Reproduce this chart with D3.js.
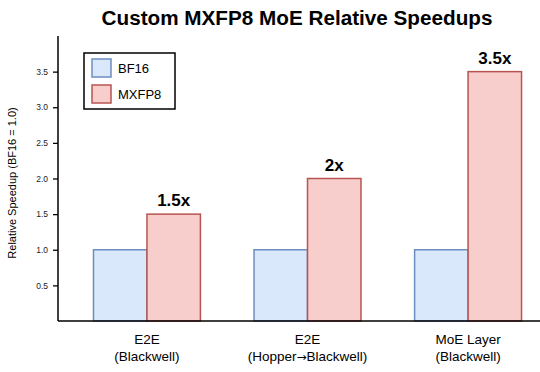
<!DOCTYPE html>
<html>
<head>
<meta charset="utf-8">
<script src="https://cdn.jsdelivr.net/npm/d3@7"></script>
<style>
  body { margin: 0; background: #fff; }
  svg { display: block; font-family: "Liberation Sans", Arial, sans-serif; }
</style>
</head>
<body>
<svg id="chart" width="540" height="372"></svg>
<script>
// chart data
const categories = ['E2E\n(Blackwell)', 'E2E\n(Hopper\u2192Blackwell)', 'MoE Layer\n(Blackwell)'];
const bf16Values = [1.0, 1.0, 1.0];
const mxfp8Values = [1.5, 2.0, 3.5];
const speedupLabels = ['1.5x', '2x', '3.5x'];
const yTicks = [0.5, 1.0, 1.5, 2.0, 2.5, 3.0, 3.5];

const seriesNames = ['BF16', 'MXFP8'];
const fills = ['#dae8fc', '#f8cecc'];
const strokes = ['#6c8ebf', '#b85450'];

const svg = d3.select('#chart');
const plotLeft = 58, plotRight = 540, plotTop = 36, plotBottom = 321;

// group index -> pixel; bars are 1/3 of group spacing wide
const x = d3.scaleLinear().domain([-0.554, 2.448]).range([plotLeft, plotRight]);
const y = d3.scaleLinear().domain([0, 4.0]).range([plotBottom, plotTop]);
const barW = 0.333;

const rows = categories.map((c, i) => ({ i: i, vals: [bf16Values[i], mxfp8Values[i]] }));

const groups = svg.append('g').selectAll('g')
    .data(rows)
    .enter()
    .append('g');

groups.selectAll('rect')
    .data(d => d.vals.map((v, s) => ({ i: d.i, s: s, v: v })))
    .enter()
    .append('rect')
    .attr('x', d => x(d.i + (d.s - 1) * barW))
    .attr('y', d => y(d.v))
    .attr('width', d => x(barW) - x(0))
    .attr('height', d => y(0) - y(d.v))
    .attr('fill', d => fills[d.s])
    .attr('stroke', d => strokes[d.s])
    .attr('stroke-width', 1.5);

// speedup labels over the MXFP8 bars
svg.append('g').selectAll('text')
    .data(rows)
    .enter()
    .append('text')
    .attr('x', d => x(d.i + barW / 2))
    .attr('y', d => y(mxfp8Values[d.i]) - 8)
    .attr('text-anchor', 'middle')
    .style('font-size', '17px')
    .style('font-weight', 'bold')
    .text(d => speedupLabels[d.i]);

// y axis
const yAxis = svg.append('g')
    .attr('transform', `translate(${plotLeft},0)`)
    .call(d3.axisLeft(y).tickValues(yTicks).tickFormat(d3.format('.1f')).tickSize(5).tickPadding(5));
yAxis.select('.domain').remove();
yAxis.selectAll('.tick line').attr('stroke', '#000').attr('stroke-width', 1.3);
yAxis.selectAll('.tick text').style('font-size', '8.5px').style('font-family', '"Liberation Sans", Arial, sans-serif').attr('fill', '#222');

// spines
svg.append('line').attr('x1', plotLeft).attr('x2', plotLeft).attr('y1', plotTop).attr('y2', plotBottom)
    .attr('stroke', '#000').attr('stroke-width', 1.5);
svg.append('line').attr('x1', plotLeft).attr('x2', plotRight).attr('y1', plotBottom).attr('y2', plotBottom)
    .attr('stroke', '#000').attr('stroke-width', 1.5);

// category labels (arrow drawn in DejaVu, which has a wider glyph)
svg.append('g').selectAll('text')
    .data(rows)
    .enter()
    .append('text')
    .attr('text-anchor', 'middle')
    .style('font-size', '13.5px')
    .each(function (d) {
        const t = d3.select(this);
        categories[d.i].split('\n').forEach((line, k) => {
            const ts = t.append('tspan')
                .attr('x', x(d.i))
                .attr('y', 344 + k * 17);
            line.split(/(\u2192)/).forEach(part => {
                if (!part) return;
                const p = ts.append('tspan').text(part);
                if (part === '\u2192') p.style('font-family', '"DejaVu Sans"').style('font-size', '12px');
            });
        });
    });

// y label
svg.append('text')
    .attr('transform', 'translate(16,183) rotate(-90)')
    .attr('text-anchor', 'middle')
    .style('font-size', '11px')
    .text('Relative Speedup (BF16 = 1.0)');

// title
svg.append('text')
    .attr('x', 297)
    .attr('y', 25)
    .attr('text-anchor', 'middle')
    .style('font-size', '20.7px')
    .style('font-weight', 'bold')
    .text('Custom MXFP8 MoE Relative Speedups');

// legend
const legend = svg.append('g').attr('transform', 'translate(84,53)');
legend.append('rect')
    .attr('width', 91).attr('height', 56)
    .attr('fill', '#fff').attr('stroke', '#000').attr('stroke-width', 1.5);
seriesNames.forEach((name, s) => {
    legend.append('rect')
        .attr('x', 8).attr('y', 6 + s * 26)
        .attr('width', 19).attr('height', 18)
        .attr('fill', fills[s]).attr('stroke', strokes[s]).attr('stroke-width', 1.5);
    legend.append('text')
        .attr('x', 34).attr('y', 20 + s * 26)
        .style('font-size', '13px')
        .text(name);
});
</script>
</body>
</html>
